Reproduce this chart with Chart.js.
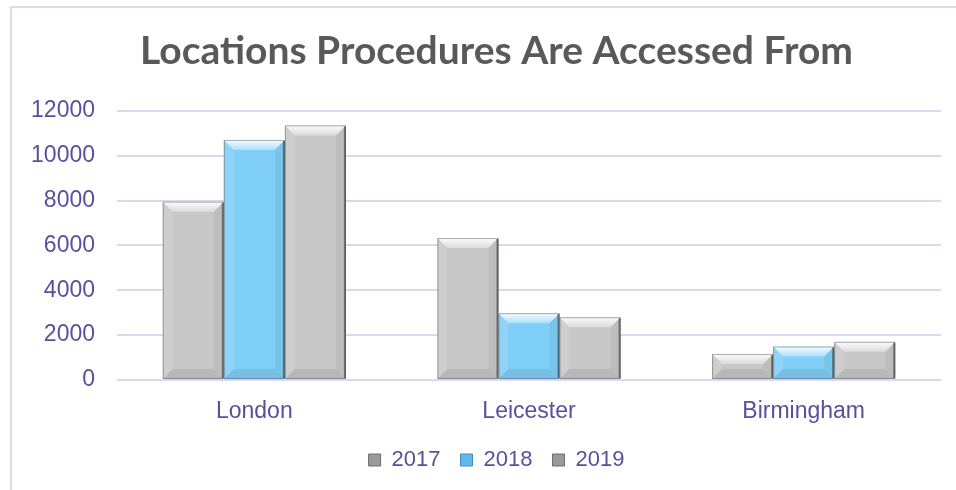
<!DOCTYPE html>
<html>
<head>
<meta charset="utf-8">
<script src="https://cdn.jsdelivr.net/npm/chart.js@4"></script>
<style>
  html, body { margin: 0; padding: 0; background: #fff; overflow: hidden; }
  #wrap {
    position: absolute; left: 10px; top: 6px; width: 980px; height: 490px;
    border-left: 2px solid #dcd8ee; border-top: 2px solid #dcd8ee;
  }
  #myChart { position: absolute; left: 0; top: 0; }
</style>
</head>
<body>
<div id="wrap"><canvas id="myChart" width="968" height="482"></canvas></div>
<script>
var locations = ['London', 'Leicester', 'Birmingham'];
var years = ['2017', '2018', '2019'];
var values2017 = [7950, 6330, 1160];
var values2018 = [10700, 2980, 1490];
var values2019 = [11350, 2800, 1700];
var yTicks = [0, 2000, 4000, 6000, 8000, 10000, 12000];

var textColor = '#5b4e9e';
var grayFill = '#c8c8c8';
var blueFill = '#80cff8';

// raised "bevel" look on every bar, drawn over the flat fill
var bevelPlugin = {
    id: 'bevel',
    afterDatasetsDraw: function (chart) {
        var c = chart.ctx;
        chart.data.datasets.forEach(function (ds, i) {
            var meta = chart.getDatasetMeta(i);
            meta.data.forEach(function (bar) {
                var p = bar.getProps(['x', 'y', 'base', 'width'], true);
                var l = p.x - p.width / 2, r = p.x + p.width / 2;
                var t = p.y, b = p.base;
                var h = b - t;
                var e = Math.min(10, h / 2, p.width / 2);
                c.save();
                // top face
                var g = c.createLinearGradient(0, t, 0, t + e);
                g.addColorStop(0, 'rgba(255,255,255,0.95)');
                g.addColorStop(1, 'rgba(255,255,255,0.35)');
                c.beginPath();
                c.moveTo(l, t); c.lineTo(r, t); c.lineTo(r - e, t + e); c.lineTo(l + e, t + e); c.closePath();
                c.fillStyle = g;
                c.fill();
                // left face
                c.beginPath();
                c.moveTo(l, t); c.lineTo(l + e, t + e); c.lineTo(l + e, b - e); c.lineTo(l, b); c.closePath();
                c.fillStyle = 'rgba(255,255,255,0.12)';
                c.fill();
                // right face
                c.beginPath();
                c.moveTo(r, t); c.lineTo(r, b); c.lineTo(r - e, b - e); c.lineTo(r - e, t + e); c.closePath();
                c.fillStyle = 'rgba(0,0,0,0.05)';
                c.fill();
                // bottom face
                c.beginPath();
                c.moveTo(l, b); c.lineTo(l + e, b - e); c.lineTo(r - e, b - e); c.lineTo(r, b); c.closePath();
                c.fillStyle = 'rgba(0,0,0,0.08)';
                c.fill();
                // edges
                c.strokeStyle = 'rgba(80,80,80,0.45)';
                c.lineWidth = 1;
                c.strokeRect(l + 0.5, t + 0.5, p.width - 1, h - 1);
                c.strokeStyle = 'rgba(50,50,50,0.55)';
                c.lineWidth = 2;
                c.beginPath();
                c.moveTo(r - 1, t + 1); c.lineTo(r - 1, b - 1);
                c.stroke();
                c.restore();
            });
        });
    }
};

// title and legend sit centred on the whole frame, not on the plot
var centerShift = {
    id: 'centerShift',
    afterLayout: function (chart) {
        [chart.titleBlock, chart.legend].forEach(function (box) {
            if (box) { box.left += 20; box.right += 20; }
        });
    }
};

var ctx = document.getElementById('myChart').getContext('2d');

var myChart = new Chart(ctx, {
    type: 'bar',
    data: {
        labels: locations,
        datasets: [
            { label: years[0], data: values2017, backgroundColor: grayFill },
            { label: years[1], data: values2018, backgroundColor: blueFill },
            { label: years[2], data: values2019, backgroundColor: grayFill }
        ]
    },
    options: {
        responsive: false,
        animation: false,
        layout: { padding: { left: 0, right: 39, top: 0, bottom: 9 } },
        datasets: { bar: { barPercentage: 1, categoryPercentage: 0.667 } },
        scales: {
            x: {
                grid: { display: false },
                border: { display: false },
                afterFit: function (s) { s.height = 49; },
                ticks: { color: textColor, font: { family: 'Liberation Sans', size: 23 }, padding: 10 }
            },
            y: {
                min: 0, max: 12000,
                afterBuildTicks: function (s) { s.ticks = yTicks.map(function (v) { return { value: v }; }); },
                afterFit: function (s) { s.width = 105; },
                grid: { color: '#dcd7ef', lineWidth: 2, drawTicks: false },
                border: { display: false },
                ticks: {
                    color: textColor, font: { family: 'Liberation Sans', size: 23 }, padding: 22,
                    callback: function (v) { return String(v); }
                }
            }
        },
        plugins: {
            title: {
                display: true,
                text: 'Locations Procedures Are Accessed From',
                color: '#595959',
                font: { family: 'Lato', size: 39, weight: 'bold' },
                padding: { top: 20, bottom: 36 }
            },
            legend: {
                position: 'bottom',
                labels: {
                    color: textColor,
                    font: { family: 'Liberation Sans', size: 22 },
                    boxWidth: 12, boxHeight: 12, padding: 20,
                    generateLabels: function (chart) {
                        return chart.data.datasets.map(function (ds, i) {
                            return {
                                text: ds.label,
                                fillStyle: i == 1 ? '#5fb8e6' : '#9a9a9a',
                                strokeStyle: i == 1 ? '#3f8fbf' : '#6e6e6e',
                                lineWidth: 1,
                                fontColor: textColor,
                                datasetIndex: i
                            };
                        });
                    }
                }
            },
            tooltip: { enabled: false }
        }
    },
    plugins: [bevelPlugin, centerShift]
});
</script>
</body>
</html>
